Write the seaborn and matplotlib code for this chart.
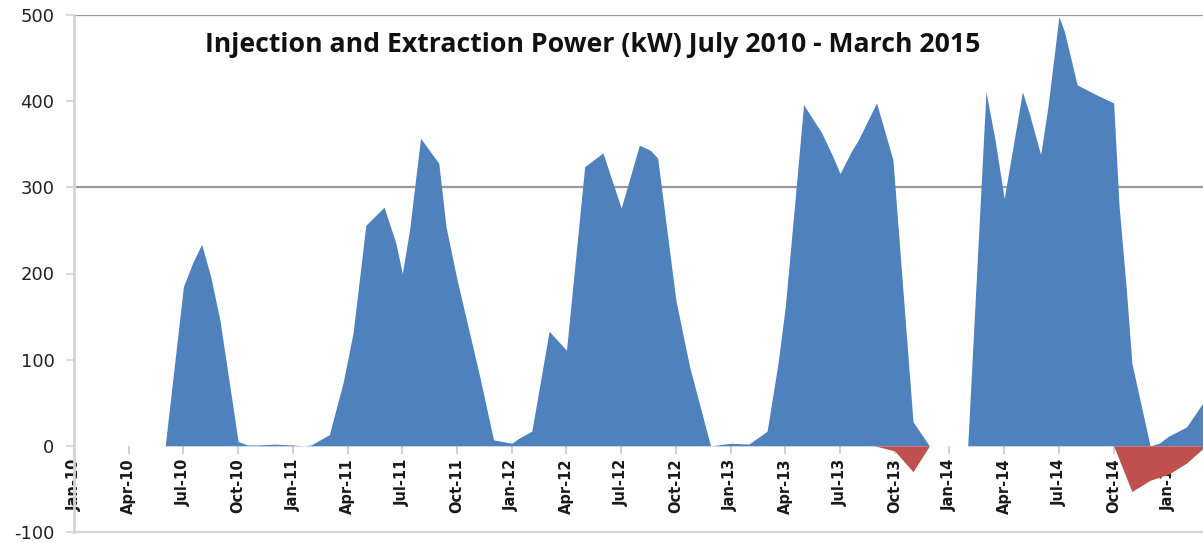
import matplotlib
matplotlib.use("Agg")
import matplotlib.pyplot as plt
import seaborn as sns
import pandas as pd

# Injection power (kW), positive; x = months since Jan 2010
inj_month = [5.0, 6.0, 6.5, 7.0, 7.5, 8.0, 9.0, 9.5, 10.0, 11.0, 12.0, 12.6,
             13.0, 14.0, 14.75, 15.3, 16.0, 17.0, 17.65, 18.0, 18.4, 19.0, 20.0,
             20.4, 21.0, 22.25, 23.0, 24.0, 24.4, 25.1, 26.05, 27.0, 28.0, 29.0,
             30.0, 31.0, 31.6, 32.0, 33.0, 33.75, 34.9, 36.0, 37.0, 38.0, 38.6,
             39.0, 39.6, 40.0, 41.0, 41.6, 42.0, 42.6, 43.0, 44.0, 44.9, 46.0,
             46.9, 49.0, 50.0, 50.5, 51.0, 52.0, 52.4, 53.0, 53.4, 54.0, 54.3,
             55.0, 56.0, 57.0, 57.3, 57.7, 58.0, 59.0, 59.5, 60.0, 61.0, 61.9]
inj_kw = [0, 185, 212, 234, 196, 146, 5, 1, 1, 2, 1, 0,
          1, 13, 73, 131, 256, 277, 235, 200, 251, 357, 328,
          254, 193, 80, 7, 3, 9, 17, 133, 111, 324, 340,
          276, 349, 343, 334, 169, 92, 0, 3, 2, 17, 96,
          162, 301, 396, 363, 336, 316, 341, 355, 398, 332, 28,
          0, 0, 411, 355, 287, 411, 384, 338, 394, 498, 481,
          419, 408, 398, 278, 181, 96, 0, 3, 11, 22, 50]

# Extraction power (kW), negative
ext_month = [43.9, 45.0, 46.0, 46.9, 57.0, 58.0, 59.0, 60.0, 61.0, 61.9]
ext_kw = [0, -6, -30, 0, 0, -53, -40, -33, -20, -3]

# Quarterly axis labels
tick_month = [0, 3, 6, 9, 12, 15, 18, 21, 24, 27, 30, 33, 36, 39, 42, 45,
              48, 51, 54, 57, 60]
tick_label = ["Jan-10", "Apr-10", "Jul-10", "Oct-10", "Jan-11", "Apr-11",
              "Jul-11", "Oct-11", "Jan-12", "Apr-12", "Jul-12", "Oct-12",
              "Jan-13", "Apr-13", "Jul-13", "Oct-13", "Jan-14", "Apr-14",
              "Jul-14", "Oct-14", "Jan-15"]
y_ticks = [-100, 0, 100, 200, 300, 400, 500]

title = "Injection and Extraction Power (kW) July 2010 - March 2015"

sns.set_theme(style="white")
plt.rcParams["font.family"] = ["DejaVu Sans"]
blue, red = sns.color_palette(["#4F81BD", "#C0504D"])

inj = pd.DataFrame({"month": inj_month, "kw": inj_kw})
ext = pd.DataFrame({"month": ext_month, "kw": ext_kw})

fig = plt.figure(figsize=(12.03, 5.43), dpi=100)
ax = fig.add_axes([74 / 1203, 11 / 543, 1 - 74 / 1203, 1 - 11 / 543 - 15 / 543])

# gridlines behind the areas
for yv in (300, 500):
    ax.axhline(yv, color="#9a9a9a", lw=1.6, zorder=0)
ax.axhline(-100, color="#d4d4d4", lw=1.6, zorder=0, clip_on=False)

# filled areas from the zero line
ax.fill_between(inj["month"], 0, inj["kw"], color=blue, lw=0, zorder=2)
ax.fill_between(ext["month"], 0, ext["kw"], color=red, lw=0, zorder=2)

ax.set_xlim(0, 61.9)
ax.set_ylim(-100, 500)
ax.set_xlabel("")
ax.set_ylabel("")

# x axis sits on the zero line, without a visible line of its own
ax.spines["bottom"].set_position(("data", 0))
ax.spines["bottom"].set_color("none")
ax.spines["top"].set_visible(False)
ax.spines["right"].set_visible(False)
ax.spines["left"].set_color("#d4d4d4")
ax.spines["left"].set_linewidth(2.0)

ax.set_xticks(tick_month)
ax.set_xticklabels(tick_label, rotation=90, fontsize=10.5, fontweight="bold",
                   family=["Liberation Sans Narrow", "DejaVu Sans Condensed",
                           "DejaVu Sans"], color="#1a1a1a")
ax.tick_params(axis="x", direction="out", length=6, width=1.2,
               color="#c8c8c8", pad=3, bottom=True)

ax.set_yticks(y_ticks)
ax.set_yticklabels([str(v) for v in y_ticks], fontsize=13, color="#222222")
ax.tick_params(axis="y", direction="out", length=6, width=1.2,
               color="#d4d4d4", pad=8, left=True)

ax.text((205 - 74) / 1129, (531 - 45) / 516, title, transform=ax.transAxes,
        ha="left", va="center", fontsize=19.2, fontweight="bold",
        family=["Open Sans", "DejaVu Sans"], color="#111111")

fig.savefig("out.png", dpi=100)
